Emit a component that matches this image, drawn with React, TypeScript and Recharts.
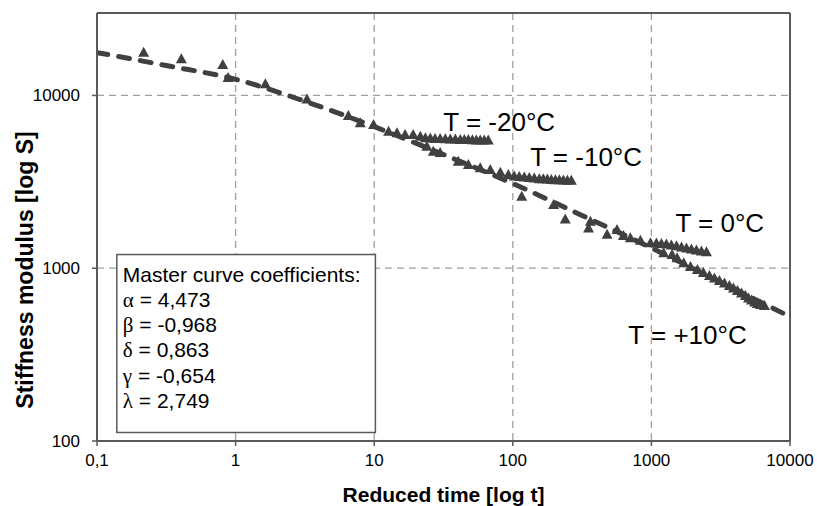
import {
  CartesianGrid,
  ComposedChart,
  Line,
  ReferenceArea,
  ReferenceDot,
  ReferenceLine,
  Scatter,
  XAxis,
  YAxis,
} from "recharts";

const INK = "#404040";
const FRAME = "#595959";
const GRID = "#a0a0a0";
const FONT = '"Liberation Sans", Arial, sans-serif';
const GREEK_FONT = '"Liberation Serif", "DejaVu Serif", serif';

const X_TICKS = [0.1, 1, 10, 100, 1000, 10000];
const Y_TICKS = [100, 1000, 10000];

// dashed master curve
const curveT = [0.1, 0.316, 1, 3.16, 10, 31.6, 100, 316, 1000, 3162, 10000];
const curveS = [17700, 14900, 12400, 9250, 6600, 4550, 3090, 2020, 1310, 830, 524];

// measured points, grouped by the branch they sit on
const m20T = [0.217, 0.406, 0.808, 0.883, 1.64, 3.27, 6.51, 7.93, 9.89, 12.7, 14.6, 16.7, 19.1, 21.5, 23.4, 25.4, 27.5, 29.9, 32.6, 35.4, 38.5, 41.8, 44.7, 47.8, 51.1, 54.5, 58.2, 62.2, 66.5];
const m20S = [17800, 16300, 15100, 12700, 11700, 9550, 7650, 6940, 6790, 6210, 6080, 5940, 5940, 5810, 5690, 5680, 5640, 5640, 5620, 5600, 5590, 5560, 5560, 5550, 5540, 5530, 5530, 5520, 5520];

const m10T = [24.0, 26.7, 29.9, 40.4, 47.8, 58.2, 68.8, 81.3, 92.9, 102.5, 111.4, 121, 131.5, 142.9, 155.3, 166, 177.4, 189.7, 202.8, 216.7, 231.7, 247.7, 264.4];
const m10S = [5080, 4750, 4670, 4160, 3980, 3810, 3730, 3590, 3490, 3420, 3390, 3370, 3350, 3330, 3300, 3290, 3280, 3260, 3250, 3250, 3240, 3230, 3230];

const p0T = [116, 197, 239, 352, 363, 479, 565, 628, 705, 833, 984, 1087, 1181, 1282, 1393, 1517, 1648, 1790, 1945, 2113, 2296, 2495];
const p0S = [2610, 2340, 1930, 1710, 1870, 1570, 1675, 1545, 1500, 1453, 1403, 1400, 1390, 1380, 1362, 1350, 1327, 1310, 1291, 1275, 1257, 1245];

const p10T = [1227, 1409, 1533, 1711, 1913, 2148, 2372, 2622, 2850, 3097, 3365, 3656, 3908, 4177, 4465, 4773, 5018, 5277, 5548, 5824, 6124, 6546];
const p10S = [1228, 1200, 1148, 1075, 1023, 982, 944, 907, 877, 849, 821, 794, 768, 743, 718, 695, 672, 655, 637, 625, 617, 609];

// temperature labels: text start (t) and vertical middle (S)
const labelText = ["T = -20°C", "T = -10°C", "T = 0°C", "T = +10°C"];
const labelT = [31.5, 133.6, 1490, 682];
const labelS = [7060, 4430, 1837, 413];

const COEF_TITLE = "Master curve coefficients:";
const coefSymbols = ["α", "β", "δ", "γ", "λ"];
const coefValues = ["4,473", "-0,968", "0,863", "-0,654", "2,749"];
// the coefficient box corners in data units
const boxT = [0.139, 10.2];
const boxS = [112, 1200];

const zip = (ts: number[], ss: number[]) => ts.map((t, i) => ({ t, s: ss[i] }));
const curve = zip(curveT, curveS);
const groups = [zip(m20T, m20S), zip(m10T, m10S), zip(p0T, p0S), zip(p10T, p10S)];

const Triangle = ({ cx = 0, cy = 0 }: { cx?: number; cy?: number }) => (
  <polygon
    points={`${cx},${cy - 5.5} ${cx - 5.5},${cy + 4.5} ${cx + 5.5},${cy + 4.5}`}
    fill={INK}
  />
);

const CoefBox = (props: any) => {
  const { x, y, width, height } = props;
  return (
    <g>
      <rect x={x} y={y} width={width} height={height} fill="#fff" stroke={FRAME} strokeWidth={1.5} />
      <text x={x + 6} y={y + 27} fontFamily={FONT} fontSize={21} fill="#000">
        {COEF_TITLE}
      </text>
      {coefSymbols.map((sym, i) => (
        <text key={sym} x={x + 6} y={y + 52.5 + i * 25.2} fontFamily={FONT} fontSize={21} fill="#000">
          <tspan fontFamily={GREEK_FONT}>{sym}</tspan>
          {` = ${coefValues[i]}`}
        </text>
      ))}
    </g>
  );
};

const fmtX = (v: number) => String(v).replace(".", ",");

export default function App() {
  return (
    <div style={{ position: "absolute", left: 0, top: 0, width: 817, height: 506, background: "#fff" }}>
      <ComposedChart width={817} height={506} margin={{ top: 13, right: 27, bottom: 0, left: 0 }}>
        <CartesianGrid stroke={GRID} strokeWidth={1.3} strokeDasharray="7 5" />
        <XAxis
          type="number"
          dataKey="t"
          scale="log"
          domain={[0.1, 10000]}
          ticks={X_TICKS}
          allowDataOverflow
          height={65}
          tickFormatter={fmtX}
          tick={{ fill: "#000", fontSize: 17, fontFamily: FONT }}
          tickSize={5}
          tickMargin={8}
          tickLine={{ stroke: FRAME, strokeWidth: 1.5 }}
          axisLine={{ stroke: FRAME, strokeWidth: 2 }}
          label={{
            content: ({ viewBox }: any) => (
              <text
                x={viewBox.x + viewBox.width / 2}
                y={viewBox.y + 61}
                textAnchor="middle"
                fontFamily={FONT}
                fontWeight="bold"
                fontSize={21}
                fill="#000"
              >
                Reduced time [log t]
              </text>
            ),
          }}
        />
        <YAxis
          type="number"
          dataKey="s"
          scale="log"
          domain={[100, 30000]}
          ticks={Y_TICKS}
          allowDataOverflow
          width={97}
          tick={{ fill: "#000", fontSize: 17, fontFamily: FONT }}
          tickSize={5}
          tickMargin={12}
          tickLine={{ stroke: FRAME, strokeWidth: 1.5 }}
          axisLine={{ stroke: FRAME, strokeWidth: 2 }}
          label={{
            content: ({ viewBox }: any) => {
              const cx = viewBox.x + 25;
              const cy = viewBox.y + viewBox.height / 2 + 43;
              return (
                <text
                  x={cx}
                  y={cy}
                  transform={`rotate(-90 ${cx} ${cy})`}
                  textAnchor="middle"
                  dominantBaseline="central"
                  fontFamily={FONT}
                  fontWeight="bold"
                  fontSize={23}
                  fill="#000"
                >
                  Stiffness modulus [log S]
                </text>
              );
            },
          }}
        />
        <ReferenceLine y={30000} stroke={FRAME} strokeWidth={2} />
        <ReferenceLine x={10000} stroke={FRAME} strokeWidth={2} />
        <ReferenceArea
          x1={boxT[0]}
          x2={boxT[1]}
          y1={boxS[0]}
          y2={boxS[1]}
          ifOverflow="visible"
          shape={(p: any) => <CoefBox {...p} />}
        />
        {groups.map((g, i) => (
          <Scatter key={i} data={g} dataKey="s" shape={<Triangle />} isAnimationActive={false} />
        ))}
        <Line
          data={curve}
          dataKey="s"
          type="monotone"
          stroke={INK}
          strokeWidth={5}
          strokeDasharray="11 11"
          strokeLinecap="round"
          dot={false}
          activeDot={false}
          isAnimationActive={false}
        />
        {labelText.map((txt, i) => (
          <ReferenceDot
            key={txt}
            x={labelT[i]}
            y={labelS[i]}
            ifOverflow="visible"
            shape={(p: any) => (
              <text
                x={p.cx}
                y={p.cy}
                dominantBaseline="central"
                fontFamily={FONT}
                fontSize={26}
                fill="#000"
              >
                {txt}
              </text>
            )}
          />
        ))}
      </ComposedChart>
    </div>
  );
}
